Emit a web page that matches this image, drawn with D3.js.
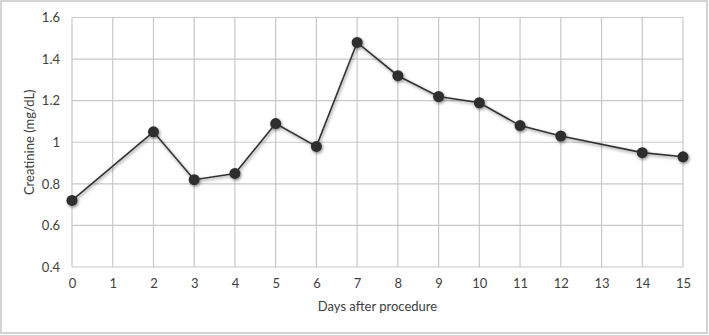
<!DOCTYPE html>
<html>
<head>
<meta charset="utf-8">
<script src="https://cdn.jsdelivr.net/npm/d3@7"></script>
<style>
    body { margin: 0; background: #fff; }
    #chart { width: 709px; height: 335px; }
    .axis text { font-family: Lato, "Open Sans", sans-serif; font-size: 13px; fill: #404040; }
    .axis-title { font-family: Lato, "Open Sans", sans-serif; font-size: 13px; fill: #404040; }
</style>
</head>
<body>
<div id="chart"></div>
<script>
// data
const days = [0, 2, 3, 4, 5, 6, 7, 8, 9, 10, 11, 12, 14, 15];
const creatinine = [0.72, 1.05, 0.82, 0.85, 1.09, 0.98, 1.48, 1.32, 1.22, 1.19, 1.08, 1.03, 0.95, 0.93];
const xTicks = d3.range(0, 16);
const yTicks = [0.4, 0.6, 0.8, 1, 1.2, 1.4, 1.6];

const W = 709, H = 335;
const margin = {top: 17.5, right: 26, bottom: 68, left: 72};
const width = W - margin.left - margin.right;
const height = H - margin.top - margin.bottom;

const svg = d3.select("#chart").append("svg")
    .attr("width", W)
    .attr("height", H);

// outer frame
svg.append("rect")
    .attr("x", 1).attr("y", 1)
    .attr("width", W - 3).attr("height", H - 3)
    .attr("fill", "#fff")
    .attr("stroke", "#d4d4d4")
    .attr("stroke-width", 2);

const defs = svg.append("defs");
const shadow = defs.append("filter").attr("id", "shadow")
    .attr("x", "-50%").attr("y", "-50%").attr("width", "200%").attr("height", "200%");
shadow.append("feDropShadow")
    .attr("dx", 1).attr("dy", 1.5)
    .attr("stdDeviation", 1.6)
    .attr("flood-color", "#000")
    .attr("flood-opacity", 0.45);

const g = svg.append("g")
    .attr("transform", `translate(${margin.left}, ${margin.top})`);

const x = d3.scaleLinear().domain([0, 15]).range([0, width]);
const y = d3.scaleLinear().domain([0.4, 1.6]).range([height, 0]);

// gridlines
g.append("g").selectAll("line.h").data(yTicks).join("line")
    .attr("x1", 0).attr("x2", width)
    .attr("y1", d => y(d)).attr("y2", d => y(d))
    .attr("stroke", "#c8c8c8").attr("stroke-width", 1.2);
g.append("g").selectAll("line.v").data(xTicks).join("line")
    .attr("x1", d => x(d)).attr("x2", d => x(d))
    .attr("y1", 0).attr("y2", height)
    .attr("stroke", "#c8c8c8").attr("stroke-width", 1.2);

// axes (labels only)
const xAxis = d3.axisBottom(x).tickValues(xTicks).tickSize(0).tickPadding(12).tickFormat(d3.format("d"));
const yAxis = d3.axisLeft(y).tickValues(yTicks).tickSize(0).tickPadding(12).tickFormat(d => d === 1 ? "1" : d3.format(".1f")(d));

g.append("g").attr("class", "x-axis axis")
    .attr("transform", `translate(0, ${height})`)
    .call(xAxis)
    .call(a => a.select(".domain").remove());
g.append("g").attr("class", "y-axis axis")
    .call(yAxis)
    .call(a => a.select(".domain").remove());

// axis titles
svg.append("text").attr("class", "axis-title")
    .attr("x", margin.left + width / 2).attr("y", 311)
    .attr("text-anchor", "middle")
    .text("Days after procedure");
svg.append("text").attr("class", "axis-title")
    .attr("transform", `translate(34, ${margin.top + height / 2}) rotate(-90)`)
    .attr("text-anchor", "middle")
    .text("Creatinine (mg/dL)");

// series
const pts = days.map((d, i) => [d, creatinine[i]]);
const series = g.append("g").attr("filter", "url(#shadow)");
series.append("path").datum(pts)
    .attr("fill", "none")
    .attr("stroke", "#333")
    .attr("stroke-width", 1.6)
    .attr("d", d3.line().x(d => x(d[0])).y(d => y(d[1])));
series.selectAll("circle").data(pts).join("circle")
    .attr("cx", d => x(d[0]))
    .attr("cy", d => y(d[1]))
    .attr("r", 5.5)
    .attr("fill", "#2f2f2f");
</script>
</body>
</html>
